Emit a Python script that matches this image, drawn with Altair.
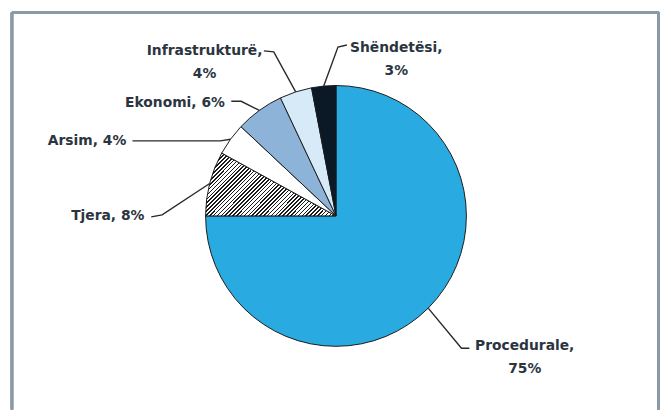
import math
import altair as alt
import pandas as pd

# ---- data ----
categories = ["Procedurale", "Tjera", "Arsim", "Ekonomi", "Infrastrukturë", "Shëndetësi"]
shares = [75, 8, 4, 6, 4, 3]
label_texts = ["Procedurale,\n75%", "Tjera, 8%", "Arsim, 4%", "Ekonomi, 6%",
               "Infrastrukturë,\n4%", "Shëndetësi,\n3%"]

# ---- styling / layout ----
slice_colors = ["#29ABE2", "#FFFFFF", "#FFFFFF", "#8DB4D8", "#D6EAF8", "#0B1826"]
CX, CY, R = 332, 208, 132
# label centre and leader elbow per category (pixel layout)
label_pos = {
    "Procedurale": (523, 340),
    "Tjera": (101, 208),
    "Arsim": (80, 132),
    "Ekonomi": (169, 94),
    "Infrastrukturë": (199, 41),
    "Shëndetësi": (393, 38),
}
leader_start = {
    "Procedurale": (467, 342),
    "Tjera": (145, 209),
    "Arsim": (126, 132),
    "Ekonomi": (226, 92),
    "Infrastrukturë": (259, 41),
    "Shëndetësi": (343, 35),
}
leader_elbow = {
    "Procedurale": (459, 342),
    "Tjera": (156, 207),
    "Arsim": (215, 132),
    "Ekonomi": (236, 92),
    "Infrastrukturë": (269, 42),
    "Shëndetësi": (334, 37),
}

df = pd.DataFrame({"cat": categories, "value": shares, "order": range(len(categories)),
                   "label": label_texts})
df["lx"] = [label_pos[c][0] for c in categories]
df["ly"] = [label_pos[c][1] for c in categories]

# leader lines: from label to elbow to the slice's mid-angle on the rim
rows = []
cum = 0
for c, v in zip(categories, shares):
    mid = (cum + v / 2) / 100 * 2 * math.pi
    cum += v
    ex, ey = CX + R * math.sin(mid), CY - R * math.cos(mid)
    pts = [leader_start[c], leader_elbow[c], (ex, ey)]
    for i, (px, py) in enumerate(pts):
        rows.append({"cat": c, "seq": i, "px": px, "py": py})
lines_df = pd.DataFrame(rows)

# hatch pattern as a striped linear gradient
stops = []
n = 52
for i in range(n):
    a, b, c = i / n, (i + 0.4) / n, (i + 1) / n
    stops += [{"offset": a, "color": "#1a1a1a"}, {"offset": b, "color": "#1a1a1a"},
              {"offset": b, "color": "#ffffff"}, {"offset": c, "color": "#ffffff"}]
hatch = {"gradient": "linear", "x1": 0, "y1": 0, "x2": 1.25, "y2": 0.6, "stops": stops}

base = alt.Chart(df)

pie = base.mark_arc(outerRadius=R, stroke="#1a1a1a", strokeWidth=1).encode(
    theta=alt.Theta("value:Q", stack=True),
    order=alt.Order("order:Q"),
    x=alt.value(CX),
    y=alt.value(CY),
    fill=alt.condition(
        "datum.cat === 'Tjera'",
        alt.value(hatch),
        alt.Fill("cat:N", scale=alt.Scale(domain=categories, range=slice_colors), legend=None),
    ),
)

leaders = alt.Chart(lines_df).mark_line(color="#2a2a2a", strokeWidth=1.4).encode(
    x=alt.X("px:Q", scale=None),
    y=alt.Y("py:Q", scale=None),
    detail="cat:N",
    order="seq:Q",
)

labels = base.mark_text(font="DejaVu Sans", fontWeight="bold", fontSize=14,
                        color="#2B3540", lineBreak="\n", lineHeight=23,
                        align="center", baseline="middle").encode(
    x=alt.X("lx:Q", scale=None),
    y=alt.Y("ly:Q", scale=None),
    text="label:N",
)

frame_col = "#8A9AA7"
frame = [
    alt.Chart(df).mark_rule(color=frame_col, strokeWidth=2.5).encode(
        x=alt.value(4), x2=alt.value(659), y=alt.value(2)),
    alt.Chart(df).mark_rule(color=frame_col, strokeWidth=2.5).encode(
        x=alt.value(4), y=alt.value(2), y2=alt.value(404)),
    alt.Chart(df).mark_rule(color=frame_col, strokeWidth=2.5).encode(
        x=alt.value(658.5), y=alt.value(2), y2=alt.value(404)),
]

chart = alt.layer(*frame, pie, leaders, labels).properties(
    width=663, height=402, padding=0, autosize=alt.AutoSizeParams(type="none"),
    background="#ffffff",
).configure_view(strokeWidth=0)

chart.save("out.html", embed_options={"renderer": "svg", "actions": False})
